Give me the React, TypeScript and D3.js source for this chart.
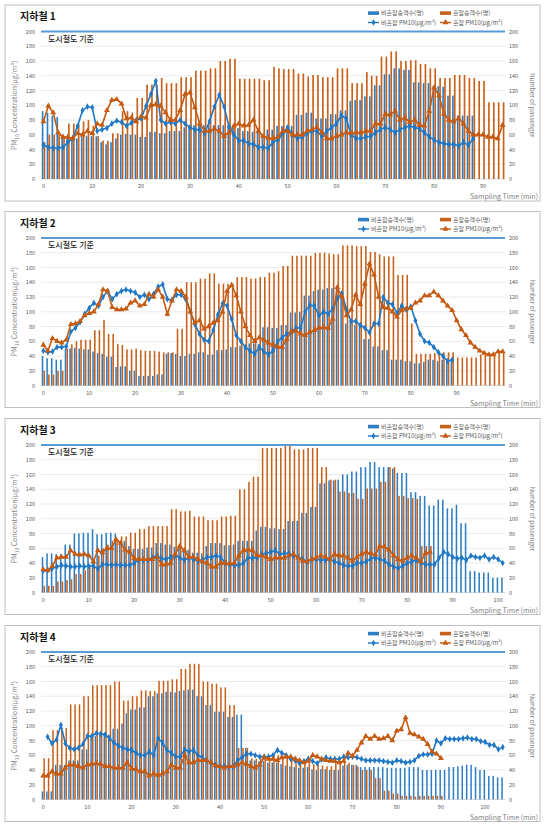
import React from 'react';
import * as d3 from 'd3';

const FONT = "'Noto Sans CJK KR', 'Noto Sans', sans-serif";
const BAR_BLUE = '#2F7EC4';
const BAR_ORANGE = '#C8611A';
const LINE_BLUE = '#1F78C6';
const LINE_ORANGE = '#C55A11';

// ---------- Data ----------
const yTicks = [0, 20, 40, 60, 80, 100, 120, 140, 160, 180, 200];
const titles = ['지하철 1', '지하철 2', '지하철 3', '지하철 4'];
const categoryCounts = [95, 101, 102, 105];
const xTickLists = [
  [0, 10, 20, 30, 40, 50, 60, 70, 80, 90],
  [0, 10, 20, 30, 40, 50, 60, 70, 80, 90],
  [0, 10, 20, 30, 40, 50, 60, 70, 80, 90, 100],
  [0, 10, 20, 30, 40, 50, 60, 70, 80, 90, 100],
];
const legendLabels = ['비혼잡승객수(명)', '혼잡승객수(명)', '비혼잡 PM10(μg/m³)', '혼잡 PM10(μg/m³)'];

// 지하철 1
const p1BlueBars = [92,90,86,84,58,55,57,55,58,58, 58,58,50,47,50,55,60,61,60,60, 57,57,64,64,62,62,65,65,65,70, 70,73,74,73,73,73,73,73,73,70, 69,65,65,64,64,60,67,67,72,72, 72,72,87,87,90,90,82,82,82,88, 88,93,93,106,107,107,112,112,127,127, 142,142,150,150,148,148,131,131,130,130, 126,126,125,113,113,86,86,86,86];
const p1OrangeBars = [50,60,60,60,58,75,75,74,78,80, 72,58,52,52,62,62,92,92,90,110, 110,128,128,128,137,130,130,130,138,138, 138,147,147,147,150,150,160,160,163,163, 136,136,136,136,136,134,134,152,150,149, 149,149,143,143,139,141,141,138,138,138, 150,150,150,130,130,130,145,140,140,166, 166,173,173,160,160,161,161,156,156,150, 150,137,137,137,141,141,141,137,137,133, 133,104,104,104,104];
const p1BlueLine = [46,43,42,42,43,50,55,72,93,98, 97,65,67,69,75,79,77,72,76,80, 82,99,115,133,80,75,77,75,80,75, 70,67,67,62,78,98,114,98,71,60, 52,52,48,47,43,43,42,50,53,62, 70,60,55,57,62,65,65,58,65,70, 75,86,82,60,55,55,57,58,63,67, 70,67,63,67,70,72,70,68,63,57, 53,50,48,47,47,45,50,46,55];
const p1OrangeLine = [78,99,90,63,57,57,55,62,60,65, 62,75,73,93,107,108,102,82,83,78, 85,83,100,101,99,90,80,80,93,115, 117,97,75,65,65,68,65,58,63,72, 75,72,73,80,65,58,56,55,57,65, 65,60,60,60,65,67,70,63,55,55, 58,60,63,62,63,63,65,65,75,75, 88,87,92,80,83,77,80,73,72,92, 124,113,88,80,78,82,75,65,60,60, 60,57,57,55,73];

// 지하철 2
const p2BlueBars = [40,37,37,35,35,50,50,51,50,49, 49,46,44,43,39,39,25,26,26,20, 20,13,13,13,13,15,15,43,44,43, 40,40,43,43,45,45,42,42,48,48, 49,52,52,54,54,57,57,56,79,79, 78,78,82,82,99,99,100,122,122,128, 130,130,132,132,132,125,84,88,82,83, 63,63,53,53,48,48,35,35,35,33, 33,30,30,32,35,35,33,35,35,35];
const p2OrangeBars = [20,15,15,20,20,50,56,60,62,62, 62,75,75,89,70,70,56,55,49,49, 50,48,47,47,47,46,45,45,45,77, 77,140,140,140,145,145,152,152,138,138, 138,138,147,147,147,145,145,147,147,153, 153,155,162,162,176,176,176,176,176,180, 180,180,179,178,178,190,190,190,189,189, 189,181,181,178,175,175,175,150,150,150, 84,43,43,43,43,44,45,45,45,45, 38,38,38,38,38,42,42,43,43,45, 45];
const p2BlueLine = [47,45,46,52,52,53,73,78,86,97, 105,112,108,120,128,117,124,128,130,128, 126,120,123,117,124,134,137,117,116,123, 123,117,100,83,70,62,60,75,96,111, 108,90,68,60,52,47,43,52,46,42, 47,60,65,70,73,78,78,100,109,108, 95,100,97,104,118,125,103,87,87,82, 78,72,84,84,120,112,110,98,108,103, 107,88,70,60,58,52,45,40,33,35];
const p2OrangeLine = [55,47,64,60,58,62,83,84,87,95, 98,100,110,130,128,106,103,103,104,112, 115,108,110,124,120,130,120,97,115,130, 128,120,100,85,88,77,80,85,88,100, 128,136,122,100,80,68,60,65,62,58, 55,52,52,63,73,74,70,68,72,75, 78,79,78,90,133,120,95,103,123,110, 138,165,150,120,106,105,100,93,102,104, 105,112,115,122,122,127,122,115,108,102, 88,76,68,58,52,47,44,42,42,46, 46];

// 지하철 3
const p3BlueBars = [48,53,53,52,52,65,65,80,80,81, 81,86,79,79,81,81,80,70,70,63, 59,59,59,61,61,67,67,65,65,62, 62,58,58,54,54,53,63,67,67,67, 64,64,65,70,70,70,70,84,89,89, 87,87,86,86,97,97,97,108,108,116, 116,148,148,152,152,153,160,160,164,164, 170,170,177,177,170,170,170,168,162,162, 162,136,136,131,131,118,118,126,126,114, 114,119,94,94,29,29,27,27,27,20,20,20];
const p3OrangeBars = [9,9,9,15,15,17,18,25,25,30, 35,45,50,60,65,70,72,76,76,81, 81,86,86,90,90,90,90,90,113,113, 110,110,111,103,103,103,98,98,98,103, 103,104,104,140,140,150,157,157,196,196, 196,196,196,200,200,194,194,194,196,196, 196,170,170,153,153,137,137,135,135,127, 127,141,141,141,150,150,170,170,131,131, 128,128,127,63,63,63];
const p3BlueLine = [30,30,33,35,37,36,35,35,36,35, 36,36,32,38,38,37,38,37,37,37, 40,44,44,44,47,50,46,45,48,50, 47,44,47,45,43,44,48,48,50,48, 40,38,37,37,40,47,47,47,52,53, 55,57,52,53,53,50,48,45,42,45, 45,44,44,45,42,40,37,36,36,40, 40,42,46,47,45,43,38,35,33,36, 40,42,44,40,38,38,38,47,55,52, 48,46,47,44,50,48,47,50,45,48,45,40];
const p3OrangeLine = [31,30,36,47,48,48,57,52,51,52, 50,42,57,54,60,60,72,67,58,55, 46,45,45,45,45,48,38,38,40,52, 63,57,48,48,45,42,40,35,35,40, 40,39,40,50,57,58,57,50,50,48, 45,47,47,47,50,52,47,43,42,45, 47,50,48,45,52,50,50,47,43,48, 52,55,53,51,63,62,58,50,45,43, 47,50,47,42,53,55];

// 지하철 4
const p4BlueBars = [11,11,11,47,47,47,53,53,53,68, 68,86,86,88,88,88,96,96,103,117, 122,122,125,125,140,140,144,144,146,146, 145,147,148,149,149,140,140,128,128,119, 119,119,112,112,115,115,70,53,53,52, 52,50,50,50,48,46,45,44,43,43, 44,41,40,41,41,40,40,40,46,47, 47,47,44,44,44,44,44,44,43,43, 43,43,43,44,44,44,40,40,40,40, 40,40,44,44,45,46,47,47,44,40, 40,32,32,30,30];
const p4OrangeBars = [56,56,94,94,97,97,129,129,129,140, 140,155,155,155,155,155,160,160,134,134, 140,140,148,148,147,147,161,161,161,163, 163,177,177,184,184,184,160,160,157,157, 152,152,128,128,70,70,70,56,55,55, 55,55,60,60,58,58,58,57,55,52, 50,48,47,46,45,45,52,52,52,50, 47,45,40,40,40,29,29,12,12,8, 8,5,5,5,4,5,5,5,5,5,5];
const p4BlueLine = [null,85,76,81,101,76,70,68,70,75, 86,86,90,89,88,83,77,73,70,68, 67,63,60,60,65,60,83,77,67,63, 58,58,68,65,67,60,57,53,50,47, 45,45,45,45,53,57,62,62,60,58, 58,58,60,67,63,60,55,53,49,52, 55,52,49,54,57,55,55,55,58,57, 58,57,55,53,53,53,53,52,51,50, 53,52,50,51,53,59,61,61,62,80, 76,83,82,82,82,83,84,82,82,79, 78,74,74,68,71];
const p4OrangeLine = [32,32,38,35,35,43,47,47,45,43, 47,48,49,48,45,45,43,43,43,50, 42,41,38,38,32,35,33,35,38,47, 43,43,60,50,50,53,53,53,50,46, 45,43,45,45,47,50,48,45,43,47, 57,55,55,53,57,58,58,55,53,50, 52,60,58,55,53,52,52,50,52,63, 59,67,77,86,82,86,82,83,86,80, 93,95,111,90,88,85,82,75,65,62,56];

const panelTops = [5, 211.5, 418.5, 625.5];
const legendXs = [368, 358, 368, 368];

const blueBarsAll = [p1BlueBars, p2BlueBars, p3BlueBars, p4BlueBars];
const orangeBarsAll = [p1OrangeBars, p2OrangeBars, p3OrangeBars, p4OrangeBars];
const blueLinesAll = [p1BlueLine, p2BlueLine, p3BlueLine, p4BlueLine];
const orangeLinesAll = [p1OrangeLine, p2OrangeLine, p3OrangeLine, p4OrangeLine];

const PL = 41;
const PR = 505;

function Panel({ idx }: { idx: number }) {
  const T = panelTops[idx];
  const n = categoryCounts[idx];
  const x = d3.scaleLinear().domain([-0.5, n - 0.5]).range([PL, PR]);
  const y = d3.scaleLinear().domain([0, 200]).range([T + 174, T + 26.5]);
  const slot = (PR - PL) / n;
  const bw = slot * 0.34;

  const mkLine = d3
    .line<number | null>()
    .defined((d) => d !== null)
    .x((_, i) => x(i))
    .y((d) => y(d as number));

  const diamond = d3.symbol().type(d3.symbolDiamond).size(13)() as string;
  const tri = d3.symbol().type(d3.symbolTriangle).size(15)() as string;

  const bl = blueLinesAll[idx];
  const ol = orangeLinesAll[idx];
  const lx = legendXs[idx];
  const cy = (y(0) + y(200)) / 2;

  return (
    <g>
      <rect x={5} y={T} width={535} height={196} fill="#fff" stroke="#bfbfbf" strokeWidth={1} />
      <text x={20} y={T + 15} fontSize={10} fontWeight="bold" fill="#111" fontFamily={FONT}>
        {titles[idx]}
      </text>
      {yTicks.map((t) => (
        <line key={t} x1={PL} x2={PR} y1={y(t)} y2={y(t)} stroke={t === 0 ? '#d0d0d0' : '#e6e6e6'} strokeWidth={0.8} />
      ))}
      {yTicks.map((t) => (
        <text key={'l' + t} x={35} y={y(t) + 2} fontSize={5.5} textAnchor="end" fill="#595959" fontFamily={FONT}>
          {t}
        </text>
      ))}
      {yTicks.map((t) => (
        <text key={'r' + t} x={509} y={y(t) + 2} fontSize={5.5} textAnchor="start" fill="#595959" fontFamily={FONT}>
          {t}
        </text>
      ))}
      {xTickLists[idx].map((t) => (
        <text key={'x' + t} x={x(t)} y={T + 183} fontSize={5.5} textAnchor="middle" fill="#595959" fontFamily={FONT}>
          {t}
        </text>
      ))}
      {blueBarsAll[idx].map((v, i) => (
        <rect key={'bb' + i} x={x(i) - bw} y={y(v)} width={bw} height={y(0) - y(v)} fill={BAR_BLUE} />
      ))}
      {orangeBarsAll[idx].map((v, i) => (
        <rect key={'ob' + i} x={x(i) + 0.2} y={y(v)} width={bw} height={y(0) - y(v)} fill={BAR_ORANGE} />
      ))}
      <line x1={PL} x2={PR} y1={y(200)} y2={y(200)} stroke="#5B9BD5" strokeWidth={2} />
      <text x={48} y={T + 36.5} fontSize={8} fill="#262626" fontFamily={FONT} fontWeight={500}>
        도시철도 기준
      </text>
      <path d={mkLine(bl) || ''} fill="none" stroke={LINE_BLUE} strokeWidth={1.6} />
      {bl.map((v, i) =>
        v === null ? null : (
          <path key={'bm' + i} d={diamond} transform={`translate(${x(i)},${y(v)})`} fill={LINE_BLUE} />
        )
      )}
      <path d={mkLine(ol) || ''} fill="none" stroke={LINE_ORANGE} strokeWidth={1.6} />
      {ol.map((v, i) =>
        v === null ? null : (
          <path key={'om' + i} d={tri} transform={`translate(${x(i)},${y(v)})`} fill={LINE_ORANGE} />
        )
      )}
      <rect x={lx} y={T + 6.3} width={11} height={3.6} fill={BAR_BLUE} />
      <text x={lx + 13} y={T + 10} fontSize={6} fill="#595959" fontFamily={FONT}>{legendLabels[0]}</text>
      <rect x={440} y={T + 6.3} width={11} height={3.6} fill={BAR_ORANGE} />
      <text x={453} y={T + 10} fontSize={6} fill="#595959" fontFamily={FONT}>{legendLabels[1]}</text>
      <line x1={lx} x2={lx + 11} y1={T + 17.5} y2={T + 17.5} stroke={LINE_BLUE} strokeWidth={1.4} />
      <path d={diamond} transform={`translate(${lx + 5.5},${T + 17.5})`} fill={LINE_BLUE} />
      <text x={lx + 13} y={T + 19.6} fontSize={6} fill="#595959" fontFamily={FONT}>{legendLabels[2]}</text>
      <line x1={440} x2={451} y1={T + 17.5} y2={T + 17.5} stroke={LINE_ORANGE} strokeWidth={1.4} />
      <path d={tri} transform={`translate(445.5,${T + 17.5})`} fill={LINE_ORANGE} />
      <text x={453} y={T + 19.6} fontSize={6} fill="#595959" fontFamily={FONT}>{legendLabels[3]}</text>
      <text
        transform={`translate(17,${cy}) rotate(-90)`}
        textAnchor="middle"
        fontSize={7}
        fill="#7f7f7f"
        fontFamily={FONT}
      >
        PM<tspan fontSize={5} dy={1.5}>10</tspan>
        <tspan dy={-1.5}> Concentration(μg/m³)</tspan>
      </text>
      <text
        transform={`translate(530,${cy}) rotate(90)`}
        textAnchor="middle"
        fontSize={6.5}
        fill="#7f7f7f"
        fontFamily={FONT}
      >
        Number of passenger
      </text>
      <text x={538} y={T + 194} textAnchor="end" fontSize={7} fill="#7f7f7f" fontFamily={FONT}>
        Sampling Time (min)
      </text>
    </g>
  );
}

export default function App() {
  return (
    <svg
      width={550}
      height={827}
      style={{ position: 'absolute', left: 0, top: 0, background: '#fff' }}
      fontFamily={FONT}
    >
      <rect x={0} y={0} width={550} height={827} fill="#fff" />
      {[0, 1, 2, 3].map((i) => (
        <Panel key={i} idx={i} />
      ))}
    </svg>
  );
}
